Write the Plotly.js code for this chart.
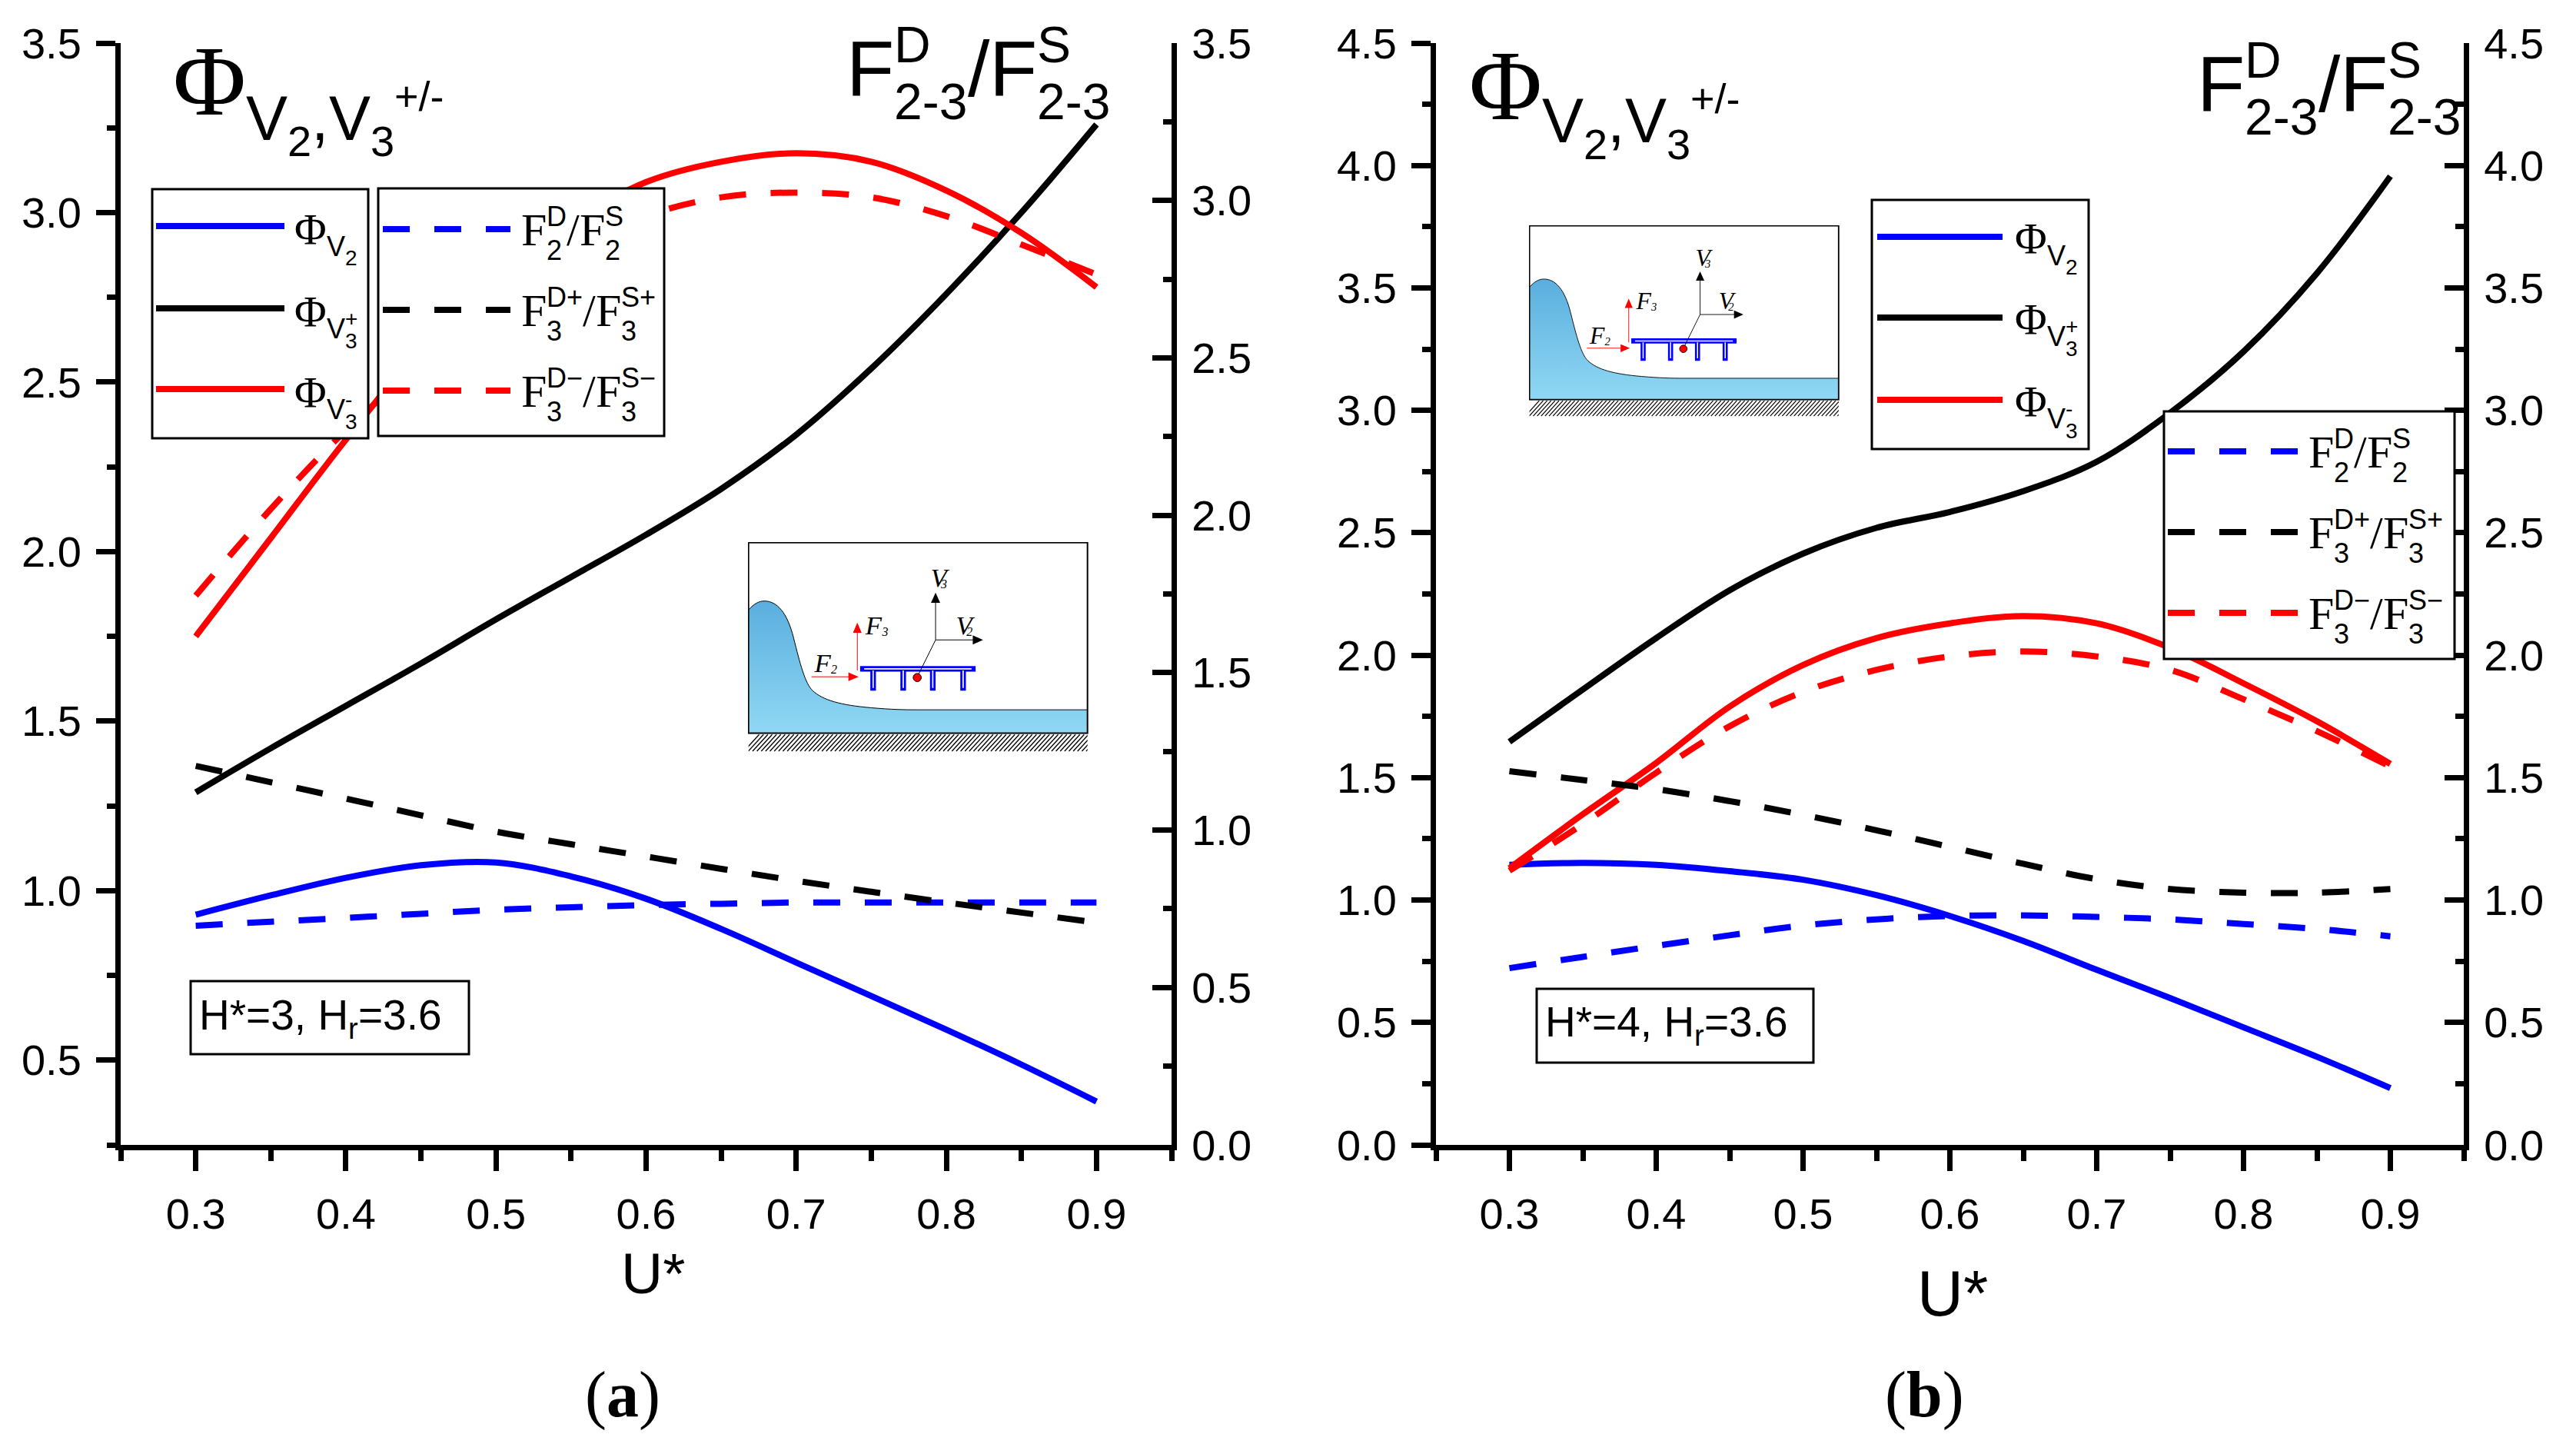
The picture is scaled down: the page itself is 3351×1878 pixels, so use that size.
<!DOCTYPE html>
<html><head><meta charset="utf-8">
<script src="https://cdn.plot.ly/plotly-3.0.1.min.js"></script>
<style>html,body{margin:0;padding:0;background:#fff;overflow:hidden}#chart{width:3351px;height:1878px}</style>
</head><body><div id="chart"></div>
<script>
// ---------- data ----------
const U = [0.3,0.35,0.4,0.45,0.5,0.55,0.6,0.65,0.7,0.75,0.8,0.85,0.9];
// panel (a)  H*=3, Hr=3.6
const phiV2_a  = [0.929,0.986,1.038,1.075,1.083,1.042,0.976,0.887,0.788,0.689,0.590,0.487,0.378];
const phiV3p_a = [1.29,1.42,1.545,1.67,1.80,1.925,2.05,2.185,2.345,2.54,2.76,3.00,3.26];
const phiV3m_a = [1.75,2.04,2.33,2.60,2.81,2.97,3.09,3.15,3.175,3.15,3.065,2.94,2.78];
const F2_a     = [0.696,0.709,0.721,0.734,0.747,0.755,0.762,0.766,0.770,0.770,0.770,0.770,0.770];
const F3p_a    = [1.204,1.152,1.100,1.047,0.995,0.955,0.916,0.877,0.839,0.804,0.770,0.738,0.706];
const F3m_a    = [1.745,2.02,2.27,2.48,2.67,2.83,2.95,3.01,3.025,3.01,2.95,2.86,2.765];
// panel (b)  H*=4, Hr=3.6
const phiV2_b  = [1.144,1.152,1.144,1.118,1.083,1.020,0.935,0.833,0.715,0.600,0.480,0.360,0.232];
const phiV3p_b = [1.646,1.86,2.07,2.265,2.415,2.52,2.585,2.67,2.79,2.99,3.24,3.56,3.956];
const phiV3m_b = [1.13,1.35,1.56,1.79,1.96,2.07,2.13,2.16,2.13,2.03,1.885,1.73,1.556];
const F2_b     = [0.722,0.768,0.813,0.856,0.896,0.921,0.935,0.937,0.931,0.921,0.902,0.882,0.852];
const F3p_b    = [1.526,1.490,1.453,1.404,1.348,1.285,1.217,1.148,1.085,1.045,1.030,1.030,1.045];
const F3m_b    = [1.12,1.31,1.52,1.71,1.85,1.94,1.995,2.015,1.995,1.94,1.82,1.69,1.545];
const xRange = [0.25,0.95];
const yLeftA = [0.25,3.5], yRightA = [0,3.5], yLeftB = [0,4.5], yRightB = [0,4.5];
const boxTextA = 'H*=3, H', boxTextB = 'H*=4, H';

// ---------- helpers ----------
const W = 3351, H = 1878;
const SANS = "'Liberation Sans', Arial, sans-serif";
const SERIF = "'Liberation Serif', 'Times New Roman', serif";
const BLUE = '#0000ff', RED = '#ff0000', BLACK = '#000000';
const DASH = '35px,32px';
const LW = 8;
const px = x => x / W, py = y => 1 - y / H;
const ctx = document.createElement('canvas').getContext('2d');
function tw(t, s, f) { ctx.font = s + 'px ' + f; return ctx.measureText(t).width; }
const annotations = [], shapes = [], images = [];
function txt(t, x, base, s, f, opt) {
  opt = opt || {};
  annotations.push({xref:'paper', yref:'paper', x:px(x), y:py(base - 0.345 * s),
    xanchor: opt.xanchor || 'left', yanchor:'middle', showarrow:false, text:t,
    borderpad:0, borderwidth:0, font:{family:f, size:s, color:opt.color || BLACK}});
}
function rich(x, base, tokens) {
  let cx = x;
  tokens.forEach(k => {
    const f = k.f || SANS;
    if (k.t !== undefined) { txt(k.t, cx, base + (k.dy || 0), k.s, f); cx += tw(k.t, k.s, f) + (k.gap || 0); }
    else {
      let w = 0;
      if (k.sup) { txt(k.sup, cx, base + k.up, k.s, f); w = Math.max(w, tw(k.sup, k.s, f)); }
      if (k.sub) { txt(k.sub, cx, base + k.dn, k.s, f); w = Math.max(w, tw(k.sub, k.s, f)); }
      cx += w + (k.gap || 0);
    }
  });
  return cx;
}
function rect(x0, y0, x1, y1, lw) {
  shapes.push({type:'rect', xref:'paper', yref:'paper', x0:px(x0), x1:px(x1), y0:py(y1), y1:py(y0),
    line:{color:BLACK, width:lw}, fillcolor:'#ffffff', layer:'above'});
}
function hline(x0, x1, y, color, dash) {
  shapes.push({type:'line', xref:'paper', yref:'paper', x0:px(x0), x1:px(x1), y0:py(y), y1:py(y),
    line:{color, width:LW, dash: dash ? DASH : 'solid'}, layer:'above'});
}
function phiLegend(bx0, by0, bx1, by1, lx0, lx1, rows, tx, off) {
  rect(bx0, by0, bx1, by1, 3);
  const cols = [BLUE, BLACK, RED];
  const sups = [null, '+', '-'];
  rows.forEach((y, i) => {
    hline(lx0, lx1, y, cols[i], false);
    const b = y + off;
    const toks = [{t:'\u03a6', s:57, f:SERIF}, {t:'V', s:36, dy:15}];
    if (i === 0) toks.push({t:'2', s:28, dy:27});
    else toks.push({sup:sups[i], sub:'3', s:28, up:-1, dn:28});
    rich(tx, b, toks);
  });
}
function fLegend(bx0, by0, bx1, by1, lx0, lx1, rows, tx) {
  rect(bx0, by0, bx1, by1, 3);
  const cols = [BLUE, BLACK, RED];
  const d = [['D','S','2'], ['D+','S+','3'], ['D\u2212','S\u2212','3']];
  rows.forEach((y, i) => {
    hline(lx0, lx1, y, cols[i], true);
    const b = y + 22;
    rich(tx, b, [
      {t:'F', s:60, f:SERIF},
      {sup:d[i][0], sub:d[i][2], s:36, up:-26, dn:18},
      {t:'/', s:60, f:SERIF},
      {t:'F', s:60, f:SERIF},
      {sup:d[i][1], sub:d[i][2], s:36, up:-26, dn:18}
    ]);
  });
}
function insetSVG() {
  let hatch = '';
  for (let x = 20; x < 1380; x += 17) hatch += `<line x1="${x}" y1="866" x2="${x + 60}" y2="800"/>`;
  const svg = `<svg xmlns="http://www.w3.org/2000/svg" viewBox="36 43 1336 826" preserveAspectRatio="none">
<defs><linearGradient id="g" x1="0" y1="0" x2="0" y2="1"><stop offset="0" stop-color="#5aaede"/><stop offset="1" stop-color="#90d8f4"/></linearGradient>
<clipPath id="c"><rect x="38" y="798" width="1330" height="70"/></clipPath></defs>
<rect x="38" y="45" width="1330" height="750" fill="#fff"/>
<path d="M38,310 C60,285 80,275 100,275 C150,275 190,320 215,420 C240,520 260,600 290,628 C330,665 400,685 520,695 C600,702 650,703 700,703 L1368,703 L1368,795 L38,795 Z" fill="url(#g)"/>
<path d="M38,310 C60,285 80,275 100,275 C150,275 190,320 215,420 C240,520 260,600 290,628 C330,665 400,685 520,695 C600,702 650,703 700,703 L1368,703" fill="none" stroke="#000" stroke-width="3"/>
<rect x="38" y="45" width="1330" height="750" fill="none" stroke="#000" stroke-width="6"/>
<g clip-path="url(#c)" stroke="#000" stroke-width="4">${hatch}</g>
<path d="M487,542 H918 M527,542 V617 M645,542 V617 M761,542 V617 M880,542 V617" stroke="#0000ff" stroke-width="22" fill="none" stroke-linecap="square"/>
<path d="M492,542 H913 M527,548 V617 M645,548 V617 M761,548 V617 M880,548 V617" stroke="#fff" stroke-width="5" fill="none"/>
<line x1="285" y1="573" x2="440" y2="573" stroke="#f00" stroke-width="3"/>
<polygon points="430,556 470,573 430,590" fill="#f00"/>
<line x1="465" y1="548" x2="465" y2="395" stroke="#f00" stroke-width="3"/>
<polygon points="448,400 465,360 482,400" fill="#f00"/>
<line x1="702" y1="570" x2="772" y2="428" stroke="#000" stroke-width="3"/>
<line x1="772" y1="428" x2="772" y2="280" stroke="#000" stroke-width="3"/>
<polygon points="754,282 772,242 790,282" fill="#000"/>
<line x1="772" y1="428" x2="920" y2="428" stroke="#000" stroke-width="3"/>
<polygon points="918,410 958,428 918,446" fill="#000"/>
<circle cx="700" cy="576" r="16" fill="#f00" stroke="#000" stroke-width="3"/>
<g font-family="Liberation Serif, Times New Roman, serif" font-style="italic" fill="#000">
<text x="752" y="220" font-size="105">V</text><text x="793" y="226" font-size="48">3</text>
<text x="852" y="405" font-size="105">V</text><text x="893" y="411" font-size="48">2</text>
<text x="497" y="405" font-size="105">F</text><text x="562" y="411" font-size="48">3</text>
<text x="297" y="555" font-size="105">F</text><text x="362" y="561" font-size="48">2</text>
</g></svg>`;
  return 'data:image/svg+xml;charset=utf-8,' + encodeURIComponent(svg);
}
function inset(x0, y0, x1, y1) {
  images.push({source:insetSVG(), xref:'paper', yref:'paper', x:px(x0), y:py(y0),
    sizex:(x1 - x0) / W, sizey:(y1 - y0) / H, xanchor:'left', yanchor:'top', sizing:'stretch', layer:'above'});
}

// ---------- traces ----------
function tr(y, xa, ya, color, dashed, name) {
  return {type:'scatter', mode:'lines', x:U, y:y, xaxis:xa, yaxis:ya, name:name, showlegend:false,
    hoverinfo:'skip', line:{color:color, width:LW, dash: dashed ? DASH : 'solid', shape:'spline', smoothing:1.0}};
}
const data = [
  tr(F2_a, 'x', 'y2', BLUE, true, 'F2D/F2S (a)'),
  tr(F3p_a, 'x', 'y2', BLACK, true, 'F3D+/F3S+ (a)'),
  tr(F3m_a, 'x', 'y2', RED, true, 'F3D-/F3S- (a)'),
  tr(phiV2_a, 'x', 'y', BLUE, false, 'Phi V2 (a)'),
  tr(phiV3p_a, 'x', 'y', BLACK, false, 'Phi V3+ (a)'),
  tr(phiV3m_a, 'x', 'y', RED, false, 'Phi V3- (a)'),
  tr(F2_b, 'x2', 'y4', BLUE, true, 'F2D/F2S (b)'),
  tr(F3p_b, 'x2', 'y4', BLACK, true, 'F3D+/F3S+ (b)'),
  tr(F3m_b, 'x2', 'y4', RED, true, 'F3D-/F3S- (b)'),
  tr(phiV2_b, 'x2', 'y3', BLUE, false, 'Phi V2 (b)'),
  tr(phiV3p_b, 'x2', 'y3', BLACK, false, 'Phi V3+ (b)'),
  tr(phiV3m_b, 'x2', 'y3', RED, false, 'Phi V3- (b)')
];

// ---------- axes ----------
const tickFont = {family:SANS, size:56, color:BLACK};
const yDom = [py(1489), py(56)];
function xAx(dom, anchor) {
  return {domain:dom, anchor:anchor, range:xRange, showline:true, linewidth:7, linecolor:BLACK,
    ticks:'outside', ticklen:27, tickwidth:7, tickcolor:BLACK, tickmode:'linear', tick0:0.3, dtick:0.1,
    tickformat:'.1f', tickfont:tickFont, ticklabelstandoff:8,
    minor:{ticks:'outside', ticklen:14, tickwidth:7, tickcolor:BLACK, dtick:0.05, tick0:0.25, showgrid:false},
    showgrid:false, zeroline:false, fixedrange:true};
}
function yAx(range, anchor, side, overlay) {
  const o = {domain:yDom, anchor:anchor, side:side, range:range, showline:true, linewidth:7, linecolor:BLACK,
    ticks: side === 'left' ? 'outside' : 'inside', ticklen:25, tickwidth:7, tickcolor:BLACK,
    tickmode:'linear', tick0:0, dtick:0.5, tickformat:'.1f', tickfont:tickFont, ticklabelstandoff:8,
    minor:{ticks: side === 'left' ? 'outside' : 'inside', ticklen:11, tickwidth:7, tickcolor:BLACK, dtick:0.25, tick0:0, showgrid:false},
    showgrid:false, zeroline:false, fixedrange:true};
  if (overlay) o.overlaying = overlay;
  return o;
}

// ---------- texts / decorations ----------
rich(225, 150, [{t:'\u03a6', s:130, f:SERIF}, {t:'V', s:81, dy:32}, {t:'2', s:56, dy:53}, {t:',', s:81, dy:32},
  {t:'V', s:81, dy:32}, {t:'3', s:56, dy:53}, {t:'+/-', s:54, dy:-6}]);
rich(1101, 125, [{t:'F', s:102}, {sup:'D', sub:'2-3', s:66, up:-44, dn:30}, {t:'/', s:102},
  {t:'F', s:102}, {sup:'S', sub:'2-3', s:66, up:-44, dn:30}]);
rich(1911, 156, [{t:'\u03a6', s:130, f:SERIF}, {t:'V', s:81, dy:29}, {t:'2', s:56, dy:51}, {t:',', s:81, dy:29},
  {t:'V', s:81, dy:29}, {t:'3', s:56, dy:51}, {t:'+/-', s:54, dy:-9}]);
rich(2858, 145, [{t:'F', s:102}, {sup:'D', sub:'2-3', s:66, up:-44, dn:30}, {t:'/', s:102},
  {t:'F', s:102}, {sup:'S', sub:'2-3', s:66, up:-44, dn:30}]);
txt('U*', 850, 1682, 75, SANS, {xanchor:'center'});
txt('U*', 2540, 1711, 83, SANS, {xanchor:'center'});
txt('(<b>a</b>)', 810, 1843, 84, SERIF, {xanchor:'center'});
txt('(<b>b</b>)', 2503, 1843, 84, SERIF, {xanchor:'center'});
phiLegend(198, 246, 479, 570, 203, 370, [294, 401, 506], 383, 24);
fLegend(492, 245, 864, 567, 498, 664, [298, 403, 508], 678);
phiLegend(2435, 260, 2717, 584, 2442, 2605, [308, 413, 520], 2621, 22);
fLegend(2815, 535, 3193, 857, 2820, 2990, [587, 692, 797], 3003);
rect(248, 1276, 610, 1371, 3);
rich(259, 1339, [{t:boxTextA, s:55}, {t:'r', s:38, dy:12}, {t:'=3.6', s:55}]);
rect(1999, 1286, 2359, 1382, 3);
rich(2010, 1348, [{t:boxTextB, s:55}, {t:'r', s:38, dy:12}, {t:'=3.6', s:55}]);
inset(973, 705, 1416, 978);
inset(1989, 293, 2393, 542);

const layout = {
  width:W, height:H, margin:{l:0, r:0, t:0, b:0}, paper_bgcolor:'#fff', plot_bgcolor:'rgba(0,0,0,0)',
  showlegend:false,
  xaxis: xAx([px(157), px(1524)], 'y'),
  yaxis: yAx(yLeftA, 'x', 'left'),
  yaxis2: yAx(yRightA, 'x', 'right', 'y'),
  xaxis2: xAx([px(1868), px(3205)], 'y3'),
  yaxis3: yAx(yLeftB, 'x2', 'left'),
  yaxis4: yAx(yRightB, 'x2', 'right', 'y3'),
  annotations: annotations, shapes: shapes, images: images
};
Plotly.newPlot('chart', data, layout, {staticPlot:true, displayModeBar:false});
</script></body></html>
